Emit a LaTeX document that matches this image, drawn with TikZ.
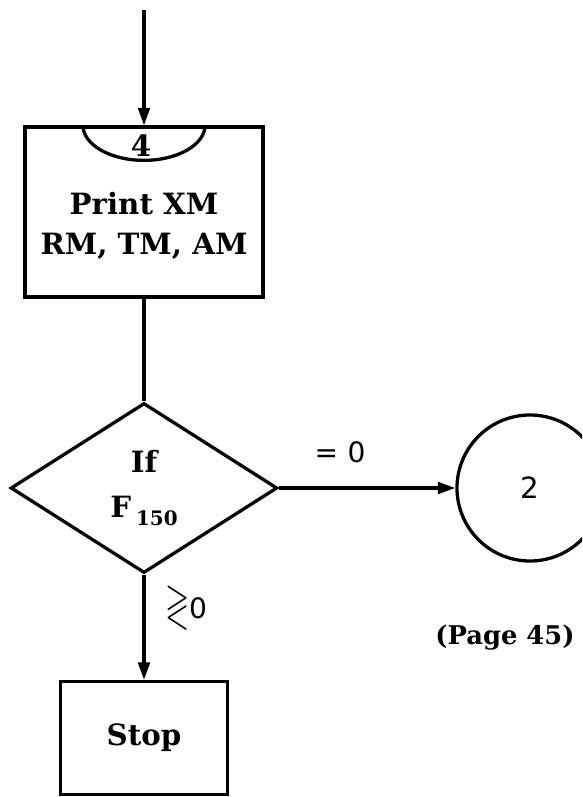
\documentclass[tikz,border=0pt]{standalone}
\usepackage{fontspec}
\usepackage{amssymb}
\usepackage{graphicx}
\setmainfont{DejaVu Serif}
\newfontfamily\labelfont{DejaVu Sans}
\usetikzlibrary{shapes.geometric,arrows.meta}

\begin{document}
\begin{tikzpicture}[x=0.03cm,y=-0.03cm,line width=2.8pt,
    block/.style={rectangle,draw,inner sep=0pt},
    decision/.style={diamond,draw,align=center,inner sep=0pt,minimum width=8cm,minimum height=5.1cm},
    connector/.style={circle,draw,minimum size=4.38cm,inner sep=0pt,font=\labelfont\fontsize{25}{28}\selectfont},
    bigtext/.style={align=center,font=\bfseries\fontsize{25}{34}\selectfont},
    flow/.style={-{Triangle[length=15pt,width=10pt]}}
]
\useasboundingbox (0,0) rectangle (582,797);
\clip (0,0) rectangle (582,797);

\coordinate (in) at (144,10);
\node[block,minimum width=7.14cm,minimum height=5.1cm] (print) at (144,212) {};
\node[bigtext] (printtxt) at (144,226) {Print XM\\RM, TM, AM};
\node[bigtext,inner sep=0pt] (c4) at (141,146) {4};
\node[decision,bigtext,font=\bfseries\fontsize{25}{38}\selectfont] (dec) at (144,488) {If\\F\,\raisebox{-0.5ex}{\fontsize{17}{17}\selectfont 150}};
\node[connector] (two) at (530,488) {2};
\node[block,bigtext,minimum width=5.01cm,minimum height=3.39cm] (stop) at (144,738) {Stop};

\node[font=\labelfont\fontsize{24}{28}\selectfont] (eq) at (340,452) {=\,\,0};
\node[font=\labelfont\fontsize{24}{28}\selectfont] (ne) at (186,607) {\scalebox{1.1}[1.7]{$\gtrless$}0};
\node[bigtext,font=\bfseries\fontsize{22}{26}\selectfont] (page) at (505,638) {(Page 45)};

% connectors
\draw ([xshift=-1.83cm]print.north) arc[start angle=180,end angle=360,x radius=1.83cm,y radius=1.05cm];
\draw[flow] (in) -- (print.north);
\draw (print.south) -- (dec.north);
\draw[flow] (dec.east) -- (two.west);
\draw[flow] (dec.south) -- (stop.north);
\end{tikzpicture}
\end{document}
